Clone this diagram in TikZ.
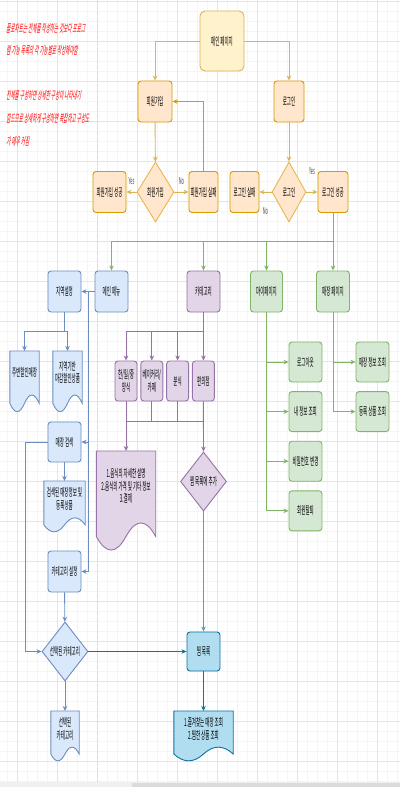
\documentclass[tikz,border=0pt]{standalone}
\usepackage{fontspec}
\newfontfamily\krfont[FakeStretch=0.41]{Noto Sans CJK KR}
\newfontfamily\krslant[FakeStretch=0.41,FakeSlant=0.18]{Noto Sans CJK KR}
\usetikzlibrary{shapes.geometric,arrows.meta,positioning,calc}
\definecolor{yelfill}{HTML}{FFF2CC}
\definecolor{yeldraw}{HTML}{D6B656}
\definecolor{orafill}{HTML}{FFE6CC}
\definecolor{oradraw}{HTML}{D79B00}
\definecolor{oralight}{HTML}{E8B850}
\definecolor{blufill}{HTML}{DAE8FC}
\definecolor{bludraw}{HTML}{6C8EBF}
\definecolor{purfill}{HTML}{E1D5E7}
\definecolor{purdraw}{HTML}{9673A6}
\definecolor{grnfill}{HTML}{D5E8D4}
\definecolor{grndraw}{HTML}{82B366}
\definecolor{cyafill}{HTML}{B1DDF0}
\definecolor{cyadraw}{HTML}{10739E}
\definecolor{cyalight}{HTML}{5A9CBC}
\definecolor{notered}{HTML}{FF0000}
\pgfdeclarelayer{grid}
\pgfdeclarelayer{docs}
\pgfsetlayers{grid,docs,main}
\tikzset{
block/.style = {draw, rounded corners=3pt, line width=0.9pt, inner sep=0pt, align=center, font=\krfont\fontsize{11}{12.5}\selectfont, minimum width=33pt, minimum height=41pt},
page/.style = {block, rounded corners=5pt, fill=yelfill, draw=yeldraw, minimum width=44pt, minimum height=60pt},
decision/.style = {draw, diamond, line width=0.9pt, inner sep=0pt, align=center, font=\krfont\fontsize{11}{12.5}\selectfont, minimum width=37pt, minimum height=60pt},
docbox/.style = {anchor=north, inner sep=0pt, align=center, font=\krfont\fontsize{11}{12.5}\selectfont},
sub/.style = {block, minimum width=22pt, minimum height=40pt},
ora/.style = {fill=orafill, draw=oradraw},
blu/.style = {fill=blufill, draw=bludraw},
pur/.style = {fill=purfill, draw=purdraw},
grn/.style = {fill=grnfill, draw=grndraw},
cya/.style = {fill=cyafill, draw=cyadraw},
lbl/.style = {inner sep=0pt, text=black!70, font=\krfont\fontsize{9.5}{10}\selectfont},
note/.style = {anchor=west, inner sep=0pt, text=notered, font=\krslant\fontsize{11}{12}\selectfont},
line/.style = {draw, line width=0.9pt},
gridminor/.style = {draw=black!4, line width=0.5pt},
gridmajor/.style = {draw=black!10, line width=0.6pt}
}
% wavy bottom of a document shape, drawn round a docbox node
\newcommand{\docpath}[2]{%
  \path [#2] let \p1=(#1.north west), \p2=(#1.south east),
    \n1={\x2-\x1}, \n2={(\y1-\y2)/0.7} in
    (\x1,\y1) -- (\x2,\y1) -- (\x2,{\y1-0.85*\n2})
    .. controls ({\x1+0.8333*\n1},{\y1-0.67*\n2}) and ({\x1+0.6667*\n1},{\y1-0.67*\n2}) .. ({\x1+0.5*\n1},{\y1-0.85*\n2})
    .. controls ({\x1+0.3333*\n1},{\y1-1.03*\n2}) and ({\x1+0.1667*\n1},{\y1-1.03*\n2}) .. (\x1,{\y1-0.85*\n2}) -- cycle;}
\begin{document}
\begin{tikzpicture}[x=1pt, y=-1pt, node distance=25.8pt, >={Stealth[length=5pt,width=4.5pt,inset=1.5pt]}]
\useasboundingbox (0,0) rectangle (400,787);

\begin{pgfonlayer}{grid}
  \fill [white] (0,0) rectangle (400,787);
  \foreach \gx in {7,17,...,397} \draw [gridminor] (\gx,0) -- (\gx,787);
  \foreach \gy in {1,11,...,781} \draw [gridminor] (0,\gy) -- (400,\gy);
  \foreach \gx in {17,57,...,377} \draw [gridmajor] (\gx,0) -- (\gx,787);
  \foreach \gy in {1,41,...,761} \draw [gridmajor] (0,\gy) -- (400,\gy);
  \draw [black!14, dashed, line width=0.5pt] (97,0) -- (97,787);
\end{pgfonlayer}

% notes
\node [note] (noteaa) at (6,28) {플로차트는 전체를 작성하는 것보다 프로그};
\node [note] (noteab) at (6,50) {램 기능 목록의 각 기능별로 작성해야함};
\node [note] (noteba) at (6,95) {전체를 구성하면 상세한 구성이 나타내기};
\node [note] (notebb) at (6,118) {힘드므로 상세하게 구성하면 복잡하고 구성도};
\node [note] (notebc) at (6,141) {가 매우 커짐};

% sign up / login
\node [page] (main) at (222,41) {메인 페이지};
\node [block, ora, minimum width=34pt] (signup) at (155,101.5) {회원가입};
\node [block, ora, minimum width=30pt] (login) at (289,101.5) {로그인};
\node [decision, ora, draw=oralight] (signdec) at (155.5,192) {회원가입};
\node [block, ora] (signok) at (109.5,192) {회원가입 성공};
\node [block, ora, minimum width=29pt] (signfail) at (203.5,192) {회원가입 실패};
\node [block, ora, minimum width=29pt] (loginfail) at (244.5,192) {로그인 실패};
\node [decision, ora, draw=oralight, minimum width=34pt] (logindec) at (289,192) {로그인};
\node [block, ora, minimum width=30pt] (loginok) at (333,192) {로그인 성공};

% menus
\node [block, blu] (menu) at (111.5,291.5) {메인 메뉴};
\node [block, blu] (region) at (64.5,291.5) {지역설정};
\node [block, pur] (category) at (203.5,291.5) {카테고리};
\node [block, grn, minimum width=32pt] (mypage) at (266.5,291.5) {마이페이지};
\node [block, grn] (store) at (333,291.5) {매장 페이지};

% main menu
\node [docbox, minimum width=29pt, minimum height=42.7pt] (nearby) at (24.5,351) {주변할인매장};
\node [docbox, minimum width=29pt, minimum height=42.7pt] (deadline) at (67.5,351) {지역기반\\마감할인상품};
\node [block, blu, minimum height=40pt] (search) at (64.5,442) {매장 검색};
\node [docbox, minimum width=41pt, minimum height=35.7pt] (found) at (64.5,481) {검색된 매장정보 및\\등록상품};
\node [block, blu] (catset) at (64.5,571.5) {카테고리 설정};
\node [decision, blu, minimum width=46pt, minimum height=59pt] (seldec) at (65,651.5) {선택된 카테고리};
\node [docbox, minimum width=28pt, minimum height=35pt] (seldoc) at (65,711) {선택된\\카테고리};

% category
\node [sub, pur] (kjc) at (126,381) {한/일/중\\양식};
\node [sub, pur, right of=kjc] (bakery) {베이커리/\\카페};
\node [sub, pur, right of=bakery] (snack) {분식};
\node [sub, pur, right of=snack] (conv) {편의점};
\node [docbox, minimum width=59pt, minimum height=70pt] (food) at (126,451) {1.음식의 자세한 설명\\2.음식의 가격 및 기타 정보\\3.결제};
\node [decision, pur, minimum width=46pt, minimum height=59pt] (wishdec) at (203.5,481.5) {찜 목록에 추가};
\node [block, cya, minimum height=39pt] (wish) at (203.5,651.5) {찜 목록};
\node [docbox, minimum width=59pt, minimum height=35pt] (wishdoc) at (203.5,711) {1.즐겨찾는 매장 조회\\2.찜한 상품 조회};

% my page / store page
\node [block, grn, minimum height=40pt] (logout) at (305.5,362) {로그아웃};
\node [block, grn, minimum height=40pt, below of=logout, node distance=49.6pt] (myinfo) {내 정보 조회};
\node [block, grn, minimum height=40pt, below of=myinfo, node distance=49.6pt] (pw) {비밀번호 변경};
\node [block, grn, minimum height=40pt, below of=pw, node distance=49.6pt] (quit) {회원탈퇴};
\node [block, grn, minimum height=40pt] (storeinfo) at (372.5,362) {매장 정보 조회};
\node [block, grn, minimum height=40pt, below of=storeinfo, node distance=49.6pt] (goods) {등록 상품 조회};

\begin{pgfonlayer}{docs}
  \docpath{nearby}{fill=blufill, draw=bludraw, line width=0.9pt}
  \docpath{deadline}{fill=blufill, draw=bludraw, line width=0.9pt}
  \docpath{found}{fill=blufill, draw=bludraw, line width=0.9pt}
  \docpath{seldoc}{fill=blufill, draw=bludraw, line width=0.9pt}
  \docpath{food}{fill=purfill, draw=purdraw, line width=0.9pt}
  \docpath{wishdoc}{fill=cyafill, draw=cyadraw, line width=0.9pt}
\end{pgfonlayer}

\coordinate (gfork) at (333,241);
\coordinate (rfork) at (64.5,331);
\coordinate (cfork) at (203.5,331);
\coordinate (cjoinl) at (126,421);
\coordinate (cjoinr) at (203.4,421);

\draw [line, yeldraw, ->] (main.west) -| (signup.north);
\draw [line, yeldraw, ->] (main.east) -| (login.north);
\draw [line, yeldraw, ->] (signup) -- (signdec);
\draw [line, yeldraw, ->] (login) -- (logindec);
\draw [line, yeldraw, ->] (signdec) -- node [lbl, above=7pt] (yesa) {Yes} (signok);
\draw [line, yeldraw, ->] (signdec) -- node [lbl, above=7pt] (noa) {No} (signfail);
\draw [line, oradraw, ->] (signfail.north) |- (signup.east);
\draw [line, yeldraw, ->] (logindec) -- node [lbl, below=15.5pt] (nob) {No} (loginfail);
\draw [line, yeldraw, ->] (logindec) -- node [lbl, above=17pt] (yesb) {Yes} (loginok);

\draw [line, grndraw, ->] (loginok) -- (gfork) -| (menu);
\draw [line, grndraw, ->] (gfork) -| (category);
\draw [line, grndraw, ->] (gfork) -| (mypage);
\draw [line, grndraw, ->] (gfork) -- (store);

\draw [line, bludraw, ->] (menu) -- (region);
\draw [line, bludraw, ->] (menu.west) -- ++(-6.5,0) |- (search.east);
\draw [line, bludraw, ->] (menu.west) -- ++(-6.5,0) |- (catset.east);
\draw [line, bludraw, ->] (region) -- (rfork) -| (nearby);
\draw [line, bludraw, ->] (rfork) -| (deadline);
\draw [line, bludraw, ->] (search) -- (found);
\draw [line, bludraw, ->] (search.west) -- ++(-22,0) |- (seldec.west);
\draw [line, bludraw, ->] (catset) -- (seldec);
\draw [line, bludraw, ->] (seldec) -- (seldoc);
\draw [line, cyadraw, ->] (seldec) -- (wish);

\draw [line, purdraw, ->] (category) -- (cfork) -| (kjc);
\draw [line, purdraw, ->] (cfork) -| (bakery);
\draw [line, purdraw, ->] (cfork) -| (snack);
\draw [line, purdraw, ->] (cfork) -- (conv);
\draw [line, purdraw] (bakery.south) -- (bakery.south |- cjoinl);
\draw [line, purdraw] (snack.south) -- (snack.south |- cjoinl);
\draw [line, purdraw] (cjoinl) -- (cjoinr);
\draw [line, purdraw, ->] (kjc) -- (food);
\draw [line, purdraw, ->] (conv) -- (wishdec);
\draw [line, cyalight, ->] (wishdec) -- (wish);
\draw [line, cyadraw, ->] (wish) -- (wishdoc);

\draw [line, grndraw] (mypage) -- (mypage |- quit);
\draw [line, grndraw, ->] (mypage |- logout) -- (logout);
\draw [line, grndraw, ->] (mypage |- myinfo) -- (myinfo);
\draw [line, grndraw, ->] (mypage |- pw) -- (pw);
\draw [line, grndraw, ->] (mypage |- quit) -- (quit);
\draw [line, grndraw] (store) -- (store |- goods);
\draw [line, grndraw, ->] (store |- storeinfo) -- (storeinfo);
\draw [line, grndraw, ->] (store |- goods) -- (goods);

% scroll bar
\fill [black!6] (0,782) rectangle (400,787);
\fill [black!14] (132,783) rectangle (400,787);
\end{tikzpicture}
\end{document}
